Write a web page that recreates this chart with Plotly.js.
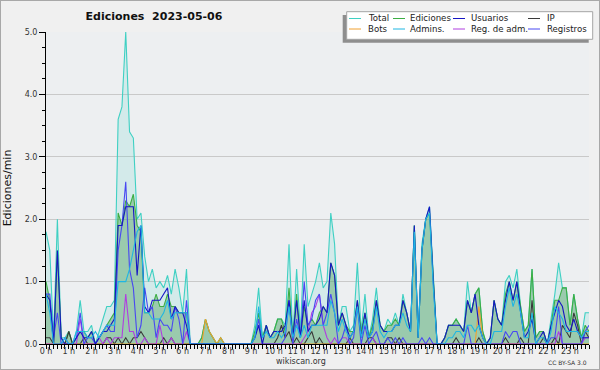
<!DOCTYPE html>
<html>
<head>
<meta charset="utf-8">
<script src="https://cdn.plot.ly/plotly-3.0.1.min.js"></script>
<style>
  html, body { margin: 0; padding: 0; background: #f0f0f0; }
  #chart { width: 598px; height: 368px; border: 1px solid #a8a8a8; }
</style>
</head>
<body>
<div id="chart"></div>
<script>
// ---- data: values per 10-minute slot (144 slots, 0:00 .. 23:50), edits/min ----
const hourLabels = ['0 h','1 h','2 h','3 h','4 h','5 h','6 h','7 h','8 h','9 h','10 h','11 h',
                    '12 h','13 h','14 h','15 h','16 h','17 h','18 h','19 h','20 h','21 h','22 h','23 h'];
const yTickVals = [0, 1, 2, 3, 4, 5];
const yTickText = ['0.0', '1.0', '2.0', '3.0', '4.0', '5.0'];

const total = [
  1.8,1.5,0.1,2.0,0.1,0.1,  0.2,0.0,0.2,0.7,0.2,0.2,  0.3,0.0,0.2,0.4,0.6,0.6,
  0.7,3.6,3.8,5.0,3.4,3.3,  2.0,2.1,1.4,1.0,1.2,0.9,  1.0,0.9,1.1,0.8,1.2,0.9,
  0.5,1.2,0.0,0.0,0.0,0.1,  0.4,0.2,0.1,0.0,0.1,0.0,  0.0,0.0,0.0,0.0,0.0,0.0,
  0.0,0.3,0.9,0.1,0.3,0.1,  0.2,0.4,0.4,0.3,1.6,0.1,  1.2,0.2,1.6,0.6,0.8,1.0,
  1.3,0.9,1.0,2.1,1.6,0.3,  0.6,0.6,0.2,0.3,1.3,0.2,  0.8,0.1,0.4,0.9,0.3,0.2,
  0.4,0.3,0.5,0.3,0.8,0.5,  0.2,1.9,0.1,1.6,2.0,2.2,  1.0,0.0,0.0,0.1,0.3,0.3,
  0.4,0.3,0.2,1.0,0.5,0.8,  0.9,0.2,0.0,0.1,0.7,0.4,  0.3,1.0,1.1,0.9,1.2,0.6,
  0.2,0.3,1.2,0.1,0.2,0.2,  0.0,0.4,0.8,1.3,0.9,0.9,  0.3,0.8,0.4,0.1,0.5,0.5
];
const ediciones = [
  1.0,0.7,0.0,1.5,0.1,0.0,  0.2,0.0,0.1,0.2,0.2,0.1,  0.2,0.0,0.1,0.2,0.3,0.4,
  0.5,2.1,1.9,2.3,2.2,2.4,  1.9,1.8,0.5,0.5,0.6,0.8,  0.6,0.6,0.8,0.6,0.6,0.5,
  0.5,0.5,0.0,0.0,0.0,0.1,  0.4,0.2,0.1,0.0,0.1,0.0,  0.0,0.0,0.0,0.0,0.0,0.0,
  0.0,0.2,0.5,0.1,0.3,0.1,  0.2,0.4,0.4,0.2,0.9,0.1,  0.8,0.1,0.6,0.3,0.4,0.3,
  0.5,0.6,0.5,1.3,1.1,0.3,  0.5,0.3,0.2,0.2,0.7,0.2,  0.5,0.1,0.3,0.7,0.3,0.2,
  0.3,0.3,0.4,0.3,0.7,0.5,  0.2,1.9,0.1,1.5,2.0,2.1,  1.0,0.0,0.0,0.1,0.3,0.3,
  0.4,0.3,0.2,0.7,0.5,0.8,  0.9,0.2,0.0,0.1,0.7,0.4,  0.3,0.8,1.0,0.7,1.0,0.6,
  0.2,0.3,1.2,0.1,0.2,0.2,  0.0,0.3,0.7,0.7,0.9,0.9,  0.3,0.8,0.4,0.1,0.3,0.2
];
const usuarios = [
  0.8,0.7,0.0,1.5,0.1,0.0,  0.0,0.0,0.1,0.2,0.1,0.1,  0.2,0.0,0.1,0.2,0.2,0.3,
  0.4,1.9,1.9,2.2,2.2,2.2,  1.1,1.9,0.6,0.5,0.7,0.7,  0.7,0.8,0.9,0.4,0.6,0.5,
  0.5,0.3,0.0,0.0,0.0,0.0,  0.0,0.0,0.0,0.0,0.0,0.0,  0.0,0.0,0.0,0.0,0.0,0.0,
  0.0,0.1,0.3,0.0,0.3,0.1,  0.2,0.2,0.2,0.3,0.7,0.1,  0.7,0.1,0.7,0.2,0.3,0.3,
  0.4,0.6,0.5,1.3,1.1,0.3,  0.5,0.3,0.1,0.2,0.7,0.1,  0.5,0.1,0.2,0.7,0.3,0.2,
  0.2,0.2,0.3,0.3,0.7,0.5,  0.2,1.9,0.1,1.5,2.0,2.2,  1.0,0.0,0.0,0.1,0.3,0.3,
  0.3,0.3,0.2,0.7,0.5,0.8,  0.3,0.1,0.0,0.1,0.7,0.4,  0.3,0.7,1.0,0.7,1.0,0.5,
  0.1,0.2,0.4,0.0,0.1,0.2,  0.0,0.3,0.5,0.7,0.6,0.3,  0.2,0.4,0.2,0.1,0.1,0.1
];
const ip = [
  0.1,0.1,0.0,0.0,0.0,0.0,  0.2,0.0,0.0,0.0,0.1,0.0,  0.0,0.0,0.0,0.0,0.1,0.1,
  0.0,0.1,0.0,0.1,0.0,0.1,  0.1,0.2,0.1,0.0,0.0,0.0,  0.0,0.1,0.0,0.1,0.0,0.0,
  0.0,0.0,0.0,0.0,0.0,0.0,  0.0,0.0,0.0,0.0,0.0,0.0,  0.0,0.0,0.0,0.0,0.0,0.0,
  0.0,0.0,0.0,0.0,0.0,0.0,  0.0,0.1,0.3,0.1,0.2,0.0,  0.1,0.0,0.0,0.1,0.2,0.0,
  0.1,0.0,0.0,0.0,0.0,0.0,  0.0,0.0,0.1,0.0,0.0,0.0,  0.0,0.1,0.1,0.0,0.0,0.0,
  0.1,0.1,0.0,0.1,0.0,0.0,  0.0,0.0,0.0,0.0,0.0,0.0,  0.0,0.0,0.0,0.0,0.0,0.0,
  0.1,0.0,0.0,0.0,0.0,0.0,  0.1,0.0,0.0,0.0,0.0,0.0,  0.0,0.1,0.0,0.0,0.0,0.1,
  0.0,0.0,0.7,0.0,0.0,0.1,  0.0,0.0,0.1,0.0,0.3,0.2,  0.1,0.5,0.3,0.0,0.2,0.1
];
const bots = [
  0,0,0,0,0,0,  0,0,0,0,0,0,  0,0,0,0,0,0,
  0,0,0,0,0,0,  0,0,0,0,0,0,  0,0,0,0,0,0,
  0,0,0,0,0,0,  0.4,0.2,0.1,0.0,0.1,0.0,  0,0,0,0,0,0,
  0,0,0,0,0,0,  0,0,0,0,0,0,  0,0,0,0,0,0,
  0,0,0,0,0,0,  0,0,0,0,0,0,  0,0,0,0,0,0,
  0,0,0,0,0,0,  0,0,0,0,0,0,  0,0,0,0,0,0,
  0,0,0,0,0,0,  0.6,0.1,0,0,0,0,  0,0,0,0,0,0,
  0,0,0,0,0,0,  0,0,0,0,0,0,  0,0,0,0,0,0
];
const admins = [
  0.8,0.5,0.0,0.0,0.0,0.1,  0.0,0.0,0.2,0.2,0.2,0.1,  0.1,0.2,0.1,0.2,0.3,0.3,
  0.3,1.0,1.0,1.0,1.2,1.5,  1.8,1.9,0.5,0.5,0.4,0.4,  0.4,0.5,0.7,0.4,0.5,0.5,
  0.5,0.5,0.0,0.0,0.0,0.0,  0.0,0.0,0.0,0.0,0.0,0.0,  0.0,0.0,0.0,0.0,0.0,0.0,
  0.0,0.1,0.6,0.1,0.2,0.1,  0.1,0.2,0.1,0.2,0.6,0.1,  0.3,0.1,0.3,0.1,0.3,0.3,
  0.3,0.3,0.3,0.7,0.5,0.2,  0.4,0.2,0.1,0.2,0.6,0.1,  0.4,0.1,0.2,0.6,0.2,0.1,
  0.2,0.2,0.3,0.3,0.5,0.3,  0.2,1.8,0.1,1.5,2.0,2.1,  0.9,0.0,0.0,0.0,0.1,0.1,
  0.2,0.2,0.1,0.3,0.3,0.2,  0.3,0.1,0.0,0.0,0.2,0.2,  0.2,0.6,0.9,0.6,0.8,0.5,
  0.1,0.1,0.5,0.0,0.1,0.1,  0.0,0.2,0.6,0.5,0.4,0.2,  0.2,0.2,0.2,0.1,0.2,0.2
];
const regAdm = [
  0,0,0,0,0,0,  0,0,0,0.4,0,0,  0,0,0.1,0,0.1,0,
  0.1,0.1,0.1,0.8,0.2,0.2,  0,0,0.1,0,0,0,  0.3,0,0,0.1,0,0,
  0,0.2,0,0,0,0,  0,0,0,0,0,0,  0,0,0,0,0,0,
  0,0,0,0,0,0,  0,0,0,0,0,0,  0,0,0.1,0.2,0.5,0.6,
  0.8,0.3,0.1,0,0.1,0,  0.1,0.1,0,0,0,0,  0,0,0.1,0,0,0,
  0,0,0,0,0,0,  0,0,0,0,0,0,  0,0,0,0,0,0,
  0,0,0,0,0,0,  0,0,0,0,0,0,  0,0,0,0,0,0,
  0,0,0,0,0,0,  0,0,0,0.2,0,0,  0,0,0,0,0.1,0.1
];
const registros = [
  0.8,0.8,0.1,0.5,0.0,0.1,  0.0,0.0,0.1,0.5,0.0,0.1,  0.1,0.0,0.1,0.2,0.3,0.2,
  0.2,1.5,1.9,2.6,1.2,0.9,  0.1,0.3,0.9,0.5,0.6,0.1,  0.4,0.3,0.3,0.2,0.6,0.4,
  0.0,0.7,0.0,0.0,0.0,0.0,  0,0,0,0,0,0,  0,0,0,0,0,0,
  0.0,0.1,0.4,0.0,0.0,0.0,  0.0,0.0,0.0,0.1,0.7,0.0,  0.4,0.1,1.0,0.3,0.4,0.7,
  0.8,0.3,0.5,0.8,0.5,0.0,  0.1,0.3,0.0,0.1,0.6,0.0,  0.3,0.0,0.1,0.2,0.0,0.0,
  0.1,0.0,0.1,0.0,0.1,0.0,  0.0,0.0,0.0,0.1,0.0,0.1,  0,0,0,0,0,0,
  0.0,0.0,0.0,0.3,0.0,0.0,  0,0,0,0,0,0,  0.0,0.2,0.1,0.2,0.2,0.0,
  0,0,0,0,0,0,  0.0,0.1,0.1,0.6,0.0,0.0,  0.0,0.0,0.0,0.0,0.2,0.3
];

const seriesNames = ['Total','Ediciones','Usuarios','IP','Bots','Admins.','Reg. de adm.','Registros'];
const seriesColors = {
  'Total': '#3fd0c3', 'Ediciones': '#3cae44', 'Usuarios': '#1616c4', 'IP': '#3a3a3a',
  'Bots': '#f0a030', 'Admins.': '#1fb6e2', 'Reg. de adm.': '#b03ee0', 'Registros': '#4848f2'
};

// x positions: hour of day for each 10-minute slot
const slots = total.map((_, i) => i / 6);

function line(name, y, extra) {
  return Object.assign({
    type: 'scatter', mode: 'lines', name: name, x: slots, y: y,
    line: { color: seriesColors[name], width: 1.1 }, showlegend: false, hoverinfo: 'skip'
  }, extra || {});
}

const traces = [
  line('Total', total, { fill: 'tozeroy', fillcolor: 'rgba(64,210,192,0.15)' }),
  line('Ediciones', ediciones, { fill: 'tozeroy', fillcolor: 'rgba(84,164,100,0.45)' }),
  line('IP', ip),
  line('Bots', bots),
  line('Reg. de adm.', regAdm),
  line('Registros', registros),
  line('Usuarios', usuarios),
  line('Admins.', admins)
];

// ---- layout helpers (page pixel -> paper coords) ----
const PL = 46, PR = 589, PT = 32, PB = 344;
const px = v => (v - PL) / (PR - PL);
const py = v => (PB - v) / (PB - PT);

const font = 'DejaVu Sans, Verdana, sans-serif';
const shapes = [
  { type: 'rect', xref: 'paper', yref: 'paper', layer: 'above',
    x0: px(342.7), x1: px(588.7), y0: py(15), y1: py(42.7),
    fillcolor: '#8e8e8e', line: { width: 0 } },
  { type: 'rect', xref: 'paper', yref: 'paper', layer: 'above',
    x0: px(346.7), x1: px(592.7), y0: py(11.7), y1: py(39.3),
    fillcolor: '#ffffff', line: { color: '#a4a4a4', width: 1 } }
];
const annotations = [];
const legendCols = [[349, 366], [393, 408], [453, 468.5], [528, 544.5]];
const legendRows = [18.5, 29];
seriesNames.forEach((name, k) => {
  const row = Math.floor(k / 4), col = k % 4;
  const yy = legendRows[row];
  shapes.push({ type: 'line', xref: 'paper', yref: 'paper', layer: 'above',
    x0: px(legendCols[col][0]), x1: px(legendCols[col][0] + 12), y0: py(yy), y1: py(yy),
    line: { color: seriesColors[name], width: 1 } });
  annotations.push({ xref: 'paper', yref: 'paper', x: px(legendCols[col][1]), y: py(yy),
    xanchor: 'left', yanchor: 'middle', showarrow: false, text: name,
    font: { family: font, size: 8.6, color: '#222' } });
});
annotations.push({ xref: 'paper', yref: 'paper', x: px(300.5), y: py(361.5), xanchor: 'center', yanchor: 'middle',
  showarrow: false, text: 'wikiscan.org', font: { family: font, size: 8, color: '#333' } });
annotations.push({ xref: 'paper', yref: 'paper', x: px(589), y: py(362.5), xanchor: 'right', yanchor: 'middle',
  showarrow: false, text: 'CC BY-SA 3.0', font: { family: font, size: 6, color: '#333' } });

const layout = {
  width: 598, height: 368,
  margin: { l: PL - 1, r: 598 - (PR - 1), t: PT - 1, b: 368 - (PB - 1), pad: 0 },
  paper_bgcolor: '#f0f0f0', plot_bgcolor: '#edeff1',
  showlegend: false,
  title: { text: 'Ediciones\u00a0 2023-05-06', x: 153 / 598, xref: 'container', xanchor: 'center',
           y: 1 - 15.5 / 368, yref: 'container', yanchor: 'middle',
           font: { family: font, size: 11, color: '#111', weight: 'bold' } },
  xaxis: {
    range: [0, slots[slots.length - 1]], tickmode: 'array',
    tickvals: hourLabels.map((_, h) => h), ticktext: hourLabels,
    ticks: 'outside', ticklen: 4, tickcolor: '#000', tickwidth: 1,
    ticklabelstandoff: -5,
    minor: { dtick: 1 / 6, tick0: 0, ticks: 'outside', ticklen: 4, tickcolor: '#000', tickwidth: 1, showgrid: false },
    showline: true, linecolor: '#000', linewidth: 1, showgrid: false, zeroline: false,
    tickfont: { family: font, size: 8, color: '#333' }, fixedrange: true
  },
  yaxis: {
    range: [0, 5], tickmode: 'array', tickvals: yTickVals, ticktext: yTickText,
    ticks: 'outside', ticklen: 6, tickcolor: '#000', tickwidth: 1,
    minor: { dtick: 0.25, tick0: 0, ticks: 'outside', ticklen: 3, tickcolor: '#000', tickwidth: 1, showgrid: false },
    showline: true, linecolor: '#000', linewidth: 1,
    showgrid: true, gridcolor: '#c9c9c9', gridwidth: 1, zeroline: false,
    tickfont: { family: font, size: 8, color: '#333' },
    title: { text: 'Ediciones/min', standoff: 11, font: { family: font, size: 11, color: '#111' } },
    fixedrange: true
  },
  shapes: shapes,
  annotations: annotations
};

Plotly.newPlot('chart', traces, layout, { displayModeBar: false, staticPlot: true });
</script>
</body>
</html>
